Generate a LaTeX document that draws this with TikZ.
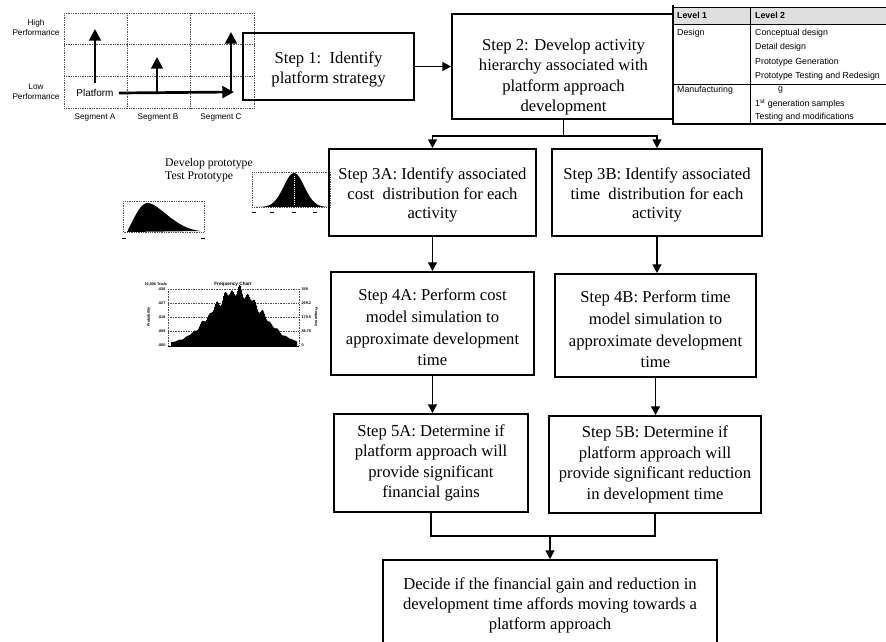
\documentclass[tikz,border=0pt]{standalone}
\usepackage{fontspec}
\setmainfont{Liberation Serif}
\newfontfamily\arialfont{Liberation Sans}
\usetikzlibrary{arrows.meta}

% invisible strut, pushes a box text down
\newcommand{\lowerby}[1]{\rule{0pt}{#1}}

\begin{document}
\begin{tikzpicture}[x=0.03cm, y=-0.03cm,
    stepbox/.style={draw, line width=1.4pt, align=center, inner sep=1pt,
        font=\fontsize{14.2}{#1}\selectfont},
    flow/.style={line width=1.4pt},
    arr/.style={flow, -{Triangle[length=7.5pt,width=7.5pt]}},
    bigarr/.style={line width=2.3pt, -{Triangle[length=10pt,width=10pt]}},
    gridline/.style={densely dotted, line width=0.5pt, black!70},
    smalltxt/.style={font=\arialfont\fontsize{7}{8.5}\selectfont, inner sep=0pt},
    tabtxt/.style={font=\arialfont\fontsize{7.5}{9}\selectfont, anchor=west, inner sep=0pt},
    tinytxt/.style={font=\arialfont\bfseries\fontsize{3.2}{3.6}\selectfont, inner sep=0.3pt}]

    \useasboundingbox (0,0) rectangle (886,642);
    \clip (0,0) rectangle (886,642);

    % platform strategy chart (top left)
    \foreach \gx in {64,127,190,254} \draw[gridline] (\gx,13) -- (\gx,108);
    \foreach \gy in {13,44,76,108} \draw[gridline] (64,\gy) -- (254,\gy);
    \node[smalltxt, align=center] (hiperf) at (36,28) {High\\Performance};
    \node[smalltxt, align=center] (loperf) at (36,92) {Low\\Performance};
    \node[smalltxt] (sega) at (95,117) {Segment A};
    \node[smalltxt] (segb) at (158,117) {Segment B};
    \node[smalltxt] (segc) at (221,117) {Segment C};
    \node[font=\arialfont\fontsize{8.5}{10}\selectfont, inner sep=1pt] (platf) at (95,93) {Platform};
    \draw[bigarr] (95,83) -- (95,29);
    \draw[bigarr] (platf.east) ++(4,0) -- (234,92);
    \draw[bigarr] (157,92) -- (157,57);
    \draw[bigarr] (231,93) -- (231,32);

    % distributions
    \node[font=\fontsize{10}{11.5}\selectfont, align=left, anchor=west, inner sep=0pt] (devtxt) at (165,170) {Develop prototype\\Test Prototype};
    \draw[gridline] (123,201) rectangle (204,232);
    \fill (127,232) .. controls (137,212) and (141,203) .. (148,203) .. controls (160,204) and (175,229) .. (201,231) -- cycle;
    \draw[line width=0.8pt] (122,238) -- (126,238) (201,238) -- (205,238);
    \draw[gridline] (252,172) rectangle (330,207);
    \fill (256,207) -- plot[domain=256:328, samples=73] (\x, {207-34*exp(-((\x-294)^2)/210)}) -- cycle;
    \draw[white, densely dotted, line width=0.6pt] (294,176) -- (294,206);
    \foreach \tx in {254,272,294,315} \draw[line width=0.8pt] (\tx-2,212) -- (\tx+2,212);

    % frequency chart
    \node[tinytxt, anchor=west] (trials) at (144,284) {10,000 Trials};
    \node[tinytxt, font=\arialfont\bfseries\fontsize{4}{4.5}\selectfont] (fchart) at (233,284) {Frequency Chart};
    \foreach \gy in {289,303,317,331} \draw[gridline, line width=0.4pt] (168,\gy) -- (299,\gy);
    \draw[gridline, line width=0.4pt] (168,289) -- (168,346) (299,289) -- (299,346);
    \fill (171,346) -- plot[domain=171:297, samples=127, const plot] (\x, {344 - 53*exp(-((\x-236)^2)/1250)*(1 + 0.07*sin(\x*47) + 0.05*sin(\x*29))}) -- (297,346) -- cycle;
    \draw[line width=0.6pt] (168,346) -- (299,346);
    \foreach \lv [count=\i] in {.036,.027,.018,.009,.000}
        \node[tinytxt, anchor=east] (pl\i) at (166,275+14*\i) {\lv};
    \foreach \rv [count=\i] in {359,269.2,179.5,89.75,0}
        \node[tinytxt, anchor=west] (fr\i) at (301,275+14*\i) {\rv};
    \node[tinytxt, rotate=90] (prob) at (149,317) {Probability};
    \node[tinytxt, rotate=-90] (freq) at (316,317) {Frequency};

    % steps
    \node[stepbox=17, minimum width=5.13cm, minimum height=2.01cm] (s1) at (328.5,66.5) {\lowerby{15pt}Step 1:\ \ Identify\\platform strategy};
    \node[stepbox=17.5, minimum width=6.69cm, minimum height=3.15cm] (s2) at (563.5,66.5) {\lowerby{28pt}Step 2: Develop activity\\hierarchy associated with\\platform approach\\development};
    \node[stepbox=16.4, minimum width=6.21cm, minimum height=2.61cm] (s3a) at (432.5,192.5) {\lowerby{14.5pt}Step 3A: Identify associated\\cost\ \ distribution for each\\activity};
    \node[stepbox=16.4, minimum width=6.30cm, minimum height=2.61cm] (s3b) at (657,192.5) {\lowerby{14.5pt}Step 3B: Identify associated\\time\ \ distribution for each\\activity};
    \node[stepbox=18.5, minimum width=6.09cm, minimum height=3.09cm] (s4a) at (432.5,323.5) {\lowerby{17pt}Step 4A: Perform cost\\model simulation to\\approximate development\\time};
    \node[stepbox=18.5, minimum width=6.03cm, minimum height=3.09cm] (s4b) at (655.5,325.5) {\lowerby{17pt}Step 4B: Perform time\\model simulation to\\approximate development\\time};
    \node[stepbox=17.5, minimum width=5.82cm, minimum height=2.94cm] (s5a) at (431,463) {Step 5A: Determine if\\platform approach will\\provide significant\\financial gains};
    \node[stepbox=17.5, minimum width=6.36cm, minimum height=2.91cm] (s5b) at (655,464.5) {Step 5B: Determine if\\platform approach will\\provide significant reduction\\in development time};
    \node[stepbox=17, minimum width=10.02cm, minimum height=2.7cm] (decide) at (550,605) {Decide if the financial gain and reduction in\\development time affords moving towards a\\platform approach};

    \draw[arr] (s1) -- (s2);
    \draw[arr] (s2.south) -- ++(0,16) -| (s3a.north);
    \draw[arr] (s2.south) -- ++(0,16) -| (s3b.north);
    \draw[arr] (s3a.south) -- (s3a.south |- s4a.north);
    \draw[arr] (s3b.south) -- (s3b.south |- s4b.north);
    \draw[arr] (s4a.south) -- (s4a.south |- s5a.north);
    \draw[arr] (s4b.south) -- (s4b.south |- s5b.north);
    \draw[flow] (s5a.south) -- ++(0,23) coordinate (join) -| (s5b.south);
    \draw[arr] (join -| decide.north) -- (decide.north);

    % activity hierarchy table
    \fill[white] (673,7) rectangle (890,124);
    \fill[gray!25] (673,7) rectangle (890,24);
    \draw[line width=0.5pt] (673,7) rectangle (890,124);
    \draw[line width=0.5pt] (673,24) -- (890,24) (673,84) -- (890,84) (750,7) -- (750,124);
    \draw[line width=1.3pt] (673,5) -- (673,124) -- (890,124);
    \node[tabtxt, font=\arialfont\bfseries\fontsize{7.5}{9}\selectfont] (lv1) at (677,15.5) {Level 1};
    \node[tabtxt, font=\arialfont\bfseries\fontsize{7.5}{9}\selectfont] (lv2) at (755,15.5) {Level 2};
    \node[tabtxt] (design) at (677,33) {Design};
    \foreach \dt [count=\i] in {Conceptual design, Detail design, Prototype Generation, Prototype Testing and Redesign}
        \node[tabtxt] (dsub\i) at (755,19+14.3*\i) {\dt};
    \node[tabtxt] (manuf) at (677,90) {Manufacturing};
    \node[tabtxt] (msub1) at (778,90) {g};
    \node[tabtxt] (msub2) at (755,104) {1\textsuperscript{st} generation samples};
    \node[tabtxt] (msub3) at (755,117) {Testing and modifications};
\end{tikzpicture}
\end{document}
